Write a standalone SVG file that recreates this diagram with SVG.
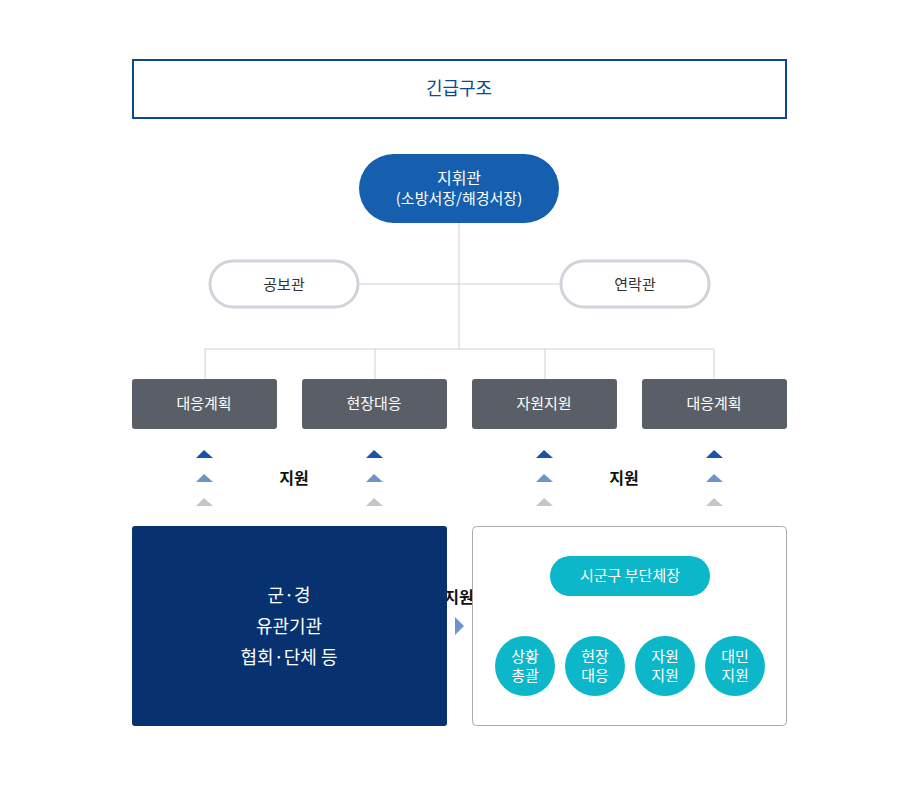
<svg xmlns="http://www.w3.org/2000/svg" width="918" height="798" viewBox="0 0 918 798">
<style>
text{font-family:"Noto Sans CJK KR","Noto Sans",sans-serif;text-anchor:middle}
.w{fill:#fff;font-size:15px}
.d{fill:#333;font-size:15px}
.b{fill:#111;font-size:16px;font-weight:bold}
.ln{stroke:#d0d0d0;stroke-width:1;fill:none}
.g{fill:#5a5e66}
.t{fill:#0bb7c9}
</style>
<rect width="918" height="798" fill="#fff"/>
<g id="top"><rect x="133" y="60" width="653" height="58" fill="#fff" stroke="#0d4a8c" stroke-width="2"/><text x="459" y="95" style="fill:#0d4a8c;font-size:18px">긴급구조</text></g>
<g id="connectors">
<path class="ln" d="M459 222V349M359 284H561M205 349H714M205 349V380M375 349V380M545 349V380M714 349V380M630 596V617M525 617H735M525 617V637M595 617V637M665 617V637M735 617V637"/>
<g fill="#1a55a5"><path d="M196 458l8-8 9 8z M366 458l8-8 9 8z M536 458l8-8 9 8z M706 458l8-8 9 8z"/></g>
<g fill="#6f95c8"><path d="M196 482l8-8 9 8z M366 482l8-8 9 8z M536 482l8-8 9 8z M706 482l8-8 9 8z"/></g>
<g fill="#c3c7cc"><path d="M196 506l8-8 9 8z M366 506l8-8 9 8z M536 506l8-8 9 8z M706 506l8-8 9 8z"/></g>
<path d="M431 617l9 9-9 9z" fill="#c3c7cc"/><path d="M455 617l9 9-9 9z" fill="#6f95c8"/><path d="M479 617l9 9-9 9z" fill="#1a55a5"/>
</g>
<g id="chief"><rect x="359" y="154" width="200" height="69" rx="34.5" fill="#155fae"/><text x="459" y="184" class="w" style="font-size:16px">지휘관</text><text x="459" y="204" class="w">(소방서장/해경서장)</text></g>
<g id="pr"><rect x="210" y="261" width="148" height="46" rx="23" fill="#fff" stroke="#d0d4da" stroke-width="3"/><text x="284" y="290" class="d">공보관</text></g>
<g id="liaison"><rect x="561" y="261" width="148" height="46" rx="23" fill="#fff" stroke="#d0d4da" stroke-width="3"/><text x="635" y="290" class="d">연락관</text></g>
<g id="n1"><rect x="132" y="379" width="145" height="50" rx="3" class="g"/><text x="204" y="409" class="w">대응계획</text></g>
<g id="n2"><rect x="302" y="379" width="145" height="50" rx="3" class="g"/><text x="374" y="409" class="w">현장대응</text></g>
<g id="n3"><rect x="472" y="379" width="145" height="50" rx="3" class="g"/><text x="544" y="409" class="w">자원지원</text></g>
<g id="n4"><rect x="642" y="379" width="145" height="50" rx="3" class="g"/><text x="714" y="409" class="w">대응계획</text></g>
<text x="294" y="484" class="b">지원</text><text x="624" y="484" class="b">지원</text><text x="459" y="603" class="b">지원</text>
<g id="military"><rect x="132" y="526" width="315" height="200" rx="3" fill="#07316f"/><text x="289" y="602" class="w" style="font-size:18px">군·경</text><text x="289" y="633" class="w" style="font-size:18px">유관기관</text><text x="289" y="664" class="w" style="font-size:18px">협회·단체 등</text></g>
<g id="local"><rect x="472.5" y="526.5" width="314" height="199" rx="4" fill="#fff" stroke="#aaa"/>
<rect x="550" y="556" width="160" height="40" rx="20" class="t"/><text x="630" y="581" class="w">시군구 부단체장</text></g>
<g id="c1"><circle cx="525" cy="666" r="30" class="t"/><text x="525" y="662" class="w">상황</text><text x="525" y="681" class="w">총괄</text></g>
<g id="c2"><circle cx="595" cy="666" r="30" class="t"/><text x="595" y="662" class="w">현장</text><text x="595" y="681" class="w">대응</text></g>
<g id="c3"><circle cx="665" cy="666" r="30" class="t"/><text x="665" y="662" class="w">자원</text><text x="665" y="681" class="w">지원</text></g>
<g id="c4"><circle cx="735" cy="666" r="30" class="t"/><text x="735" y="662" class="w">대민</text><text x="735" y="681" class="w">지원</text></g>
</svg>
